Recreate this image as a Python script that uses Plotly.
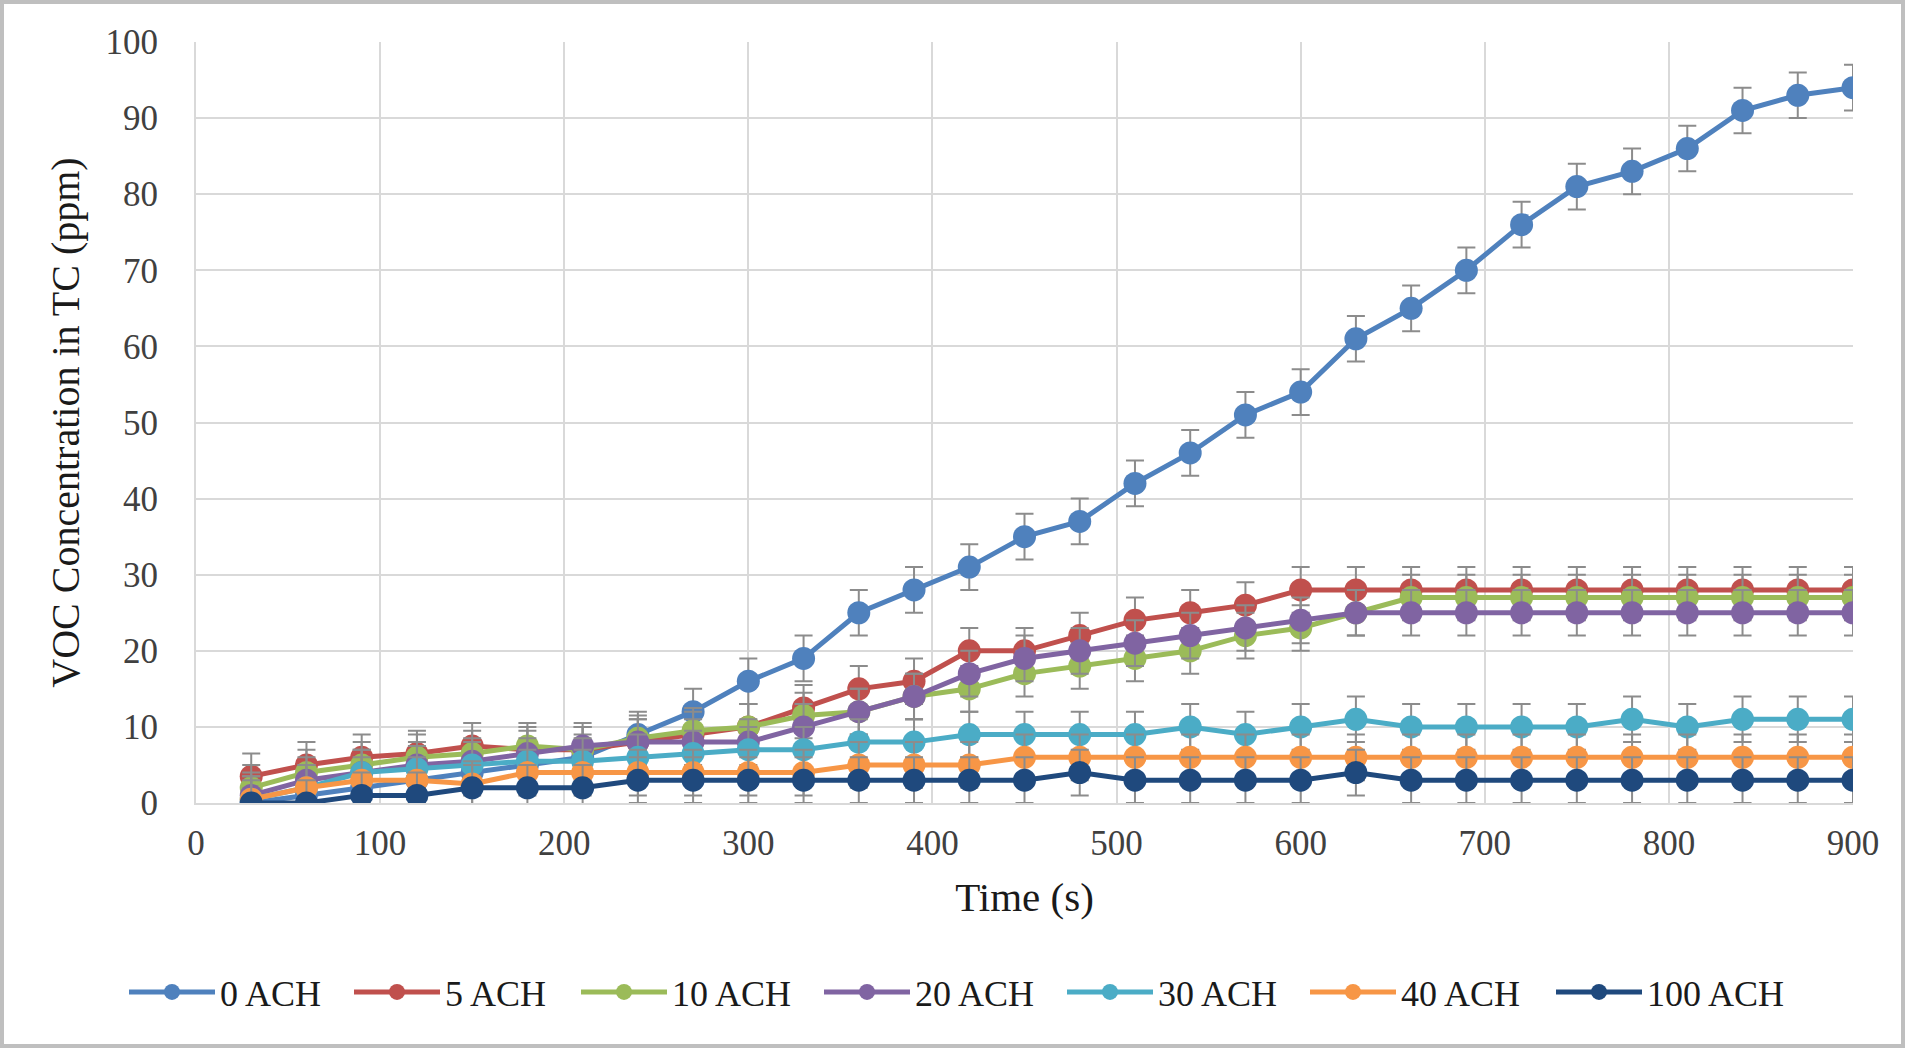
import plotly.graph_objects as go

time_s = [30, 60, 90, 120, 150, 180, 210, 240, 270, 300, 330, 360, 390, 420, 450,
          480, 510, 540, 570, 600, 630, 660, 690, 720, 750, 780, 810, 840, 870, 900]

ach0 = [0, 1, 2, 3, 4, 5, 6, 9, 12, 16, 19, 25, 28, 31, 35, 37, 42, 46, 51, 54,
        61, 65, 70, 76, 81, 83, 86, 91, 93, 94]
ach5 = [3.5, 5, 6, 6.5, 7.5, 7, 7, 8, 9, 10, 12.5, 15, 16, 20, 20, 22, 24, 25, 26, 28,
        28, 28, 28, 28, 28, 28, 28, 28, 28, 28]
ach10 = [2, 4, 5, 6, 6.5, 7.5, 7, 8.5, 9.5, 10, 11.5, 12, 14, 15, 17, 18, 19, 20, 22, 23,
         25, 27, 27, 27, 27, 27, 27, 27, 27, 27]
ach20 = [1, 3, 4, 5, 5.5, 6.5, 7.5, 8, 8, 8, 10, 12, 14, 17, 19, 20, 21, 22, 23, 24,
         25, 25, 25, 25, 25, 25, 25, 25, 25, 25]
ach30 = [0.5, 2, 4, 4.5, 5, 5.5, 5.5, 6, 6.5, 7, 7, 8, 8, 9, 9, 9, 9, 10, 9, 10,
         11, 10, 10, 10, 10, 11, 10, 11, 11, 11]
ach40 = [0.5, 2, 3, 3, 2.5, 4, 4, 4, 4, 4, 4, 5, 5, 5, 6, 6, 6, 6, 6, 6,
         6, 6, 6, 6, 6, 6, 6, 6, 6, 6]
ach100 = [0, 0, 1, 1, 2, 2, 2, 3, 3, 3, 3, 3, 3, 3, 3, 4, 3, 3, 3, 3,
          4, 3, 3, 3, 3, 3, 3, 3, 3, 3]

ERR = 3

series_names = ["0 ACH", "5 ACH", "10 ACH", "20 ACH", "30 ACH", "40 ACH", "100 ACH"]
series_vals = [ach0, ach5, ach10, ach20, ach30, ach40, ach100]
colors = ["#4F81BD", "#C0504D", "#9BBB59", "#8064A2", "#4BACC6", "#F79646", "#1F497D"]
legend_widths = [124, 126, 142, 142, 142, 145, 150]

x_ticks = [0, 100, 200, 300, 400, 500, 600, 700, 800, 900]
y_ticks = [0, 10, 20, 30, 40, 50, 60, 70, 80, 90, 100]

FONT = "Liberation Serif, Times New Roman, serif"

fig = go.Figure()
for name, vals, col, lw in zip(series_names, series_vals, colors, legend_widths):
    fig.add_trace(go.Scatter(
        x=time_s, y=vals, name=name, mode="lines+markers",
        line=dict(color=col, width=5),
        marker=dict(symbol="circle", size=23, color=col),
        error_y=dict(type="constant", value=ERR, color="#8C8C8C", thickness=2, width=9),
        legendwidth=lw,
    ))

L, R, T, B = 196, 1853, 42, 803
W, H = 1907, 1050


def px_x(p):
    return (p - L) / (R - L)


def px_y(p):
    return (B - p) / (B - T)


fig.add_shape(type="rect", xref="paper", yref="paper",
              x0=px_x(2), x1=px_x(1903), y0=px_y(1046), y1=px_y(2),
              line=dict(color="#BFBFBF", width=4), fillcolor="rgba(0,0,0,0)", layer="below")

fig.update_layout(
    width=W, height=H,
    margin=dict(l=L, r=W - R, t=T, b=H - B),
    paper_bgcolor="white", plot_bgcolor="white",
    font=dict(family=FONT, color="#1a1a1a", size=35),
    showlegend=True,
    legend=dict(orientation="h", x=px_x(124), xanchor="left", y=px_y(992), yanchor="middle",
                font=dict(family=FONT, size=36, color="#1a1a1a"),
                itemwidth=86, tracegroupgap=0),
    xaxis=dict(range=[0, 900], tickvals=x_ticks, showgrid=True, gridcolor="#D9D9D9",
               gridwidth=2, zeroline=False, showline=True, linecolor="#D9D9D9",
               linewidth=2, ticks="", ticklabelstandoff=8,
               tickfont=dict(size=35, family=FONT, color="#404040"),
               title=dict(text="Time (s)", font=dict(size=41, family=FONT, color="#1a1a1a"),
                          standoff=20)),
    yaxis=dict(range=[0, 100], tickvals=y_ticks, showgrid=True, gridcolor="#D9D9D9",
               gridwidth=2, zeroline=False, showline=True, linecolor="#D9D9D9",
               linewidth=2, ticks="", ticklabelstandoff=29,
               tickfont=dict(size=35, family=FONT, color="#404040"),
               title=dict(text="VOC Concentration in TC (ppm)",
                          font=dict(size=40, family=FONT, color="#1a1a1a"), standoff=14)),
)

fig.write_html("out.html", config={"displayModeBar": False},
               post_script="document.body.style.margin='0px';")
